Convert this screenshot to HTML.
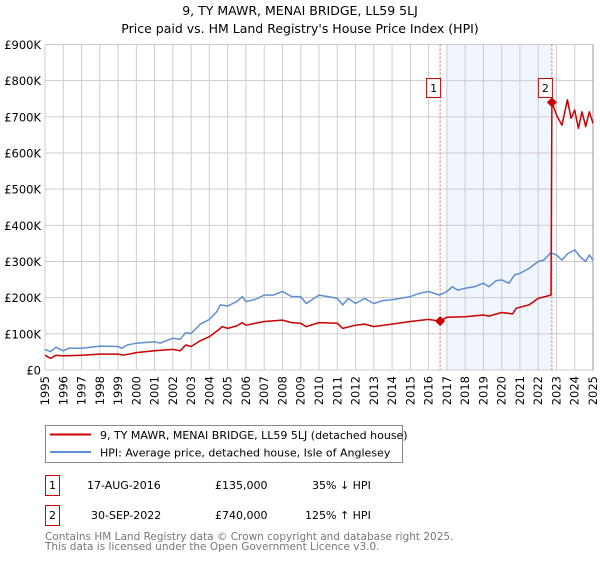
<!DOCTYPE html>
<html><head><meta charset="utf-8"><style>
body{margin:0;background:#fff;font-family:"DejaVu Sans","Liberation Sans",sans-serif;}
svg text{font-family:"DejaVu Sans","Liberation Sans",sans-serif;}
</style></head><body>
<svg id="chart" width="600" height="560" xmlns="http://www.w3.org/2000/svg">
<text x="300" y="15" text-anchor="middle" font-size="12.5" fill="#000">9, TY MAWR, MENAI BRIDGE, LL59 5LJ</text>
<text x="300" y="33" text-anchor="middle" font-size="12.5" fill="#000">Price paid vs. HM Land Registry's House Price Index (HPI)</text>
<g id="plot"></g>
<g>
<rect x="45.5" y="425.5" width="357" height="37" fill="#fff" stroke="#888"/>
<line x1="50" y1="434.5" x2="91" y2="434.5" stroke="#cc0000" stroke-width="2"/>
<text x="100" y="439" font-size="11">9, TY MAWR, MENAI BRIDGE, LL59 5LJ (detached house)</text>
<line x1="50" y1="452" x2="91" y2="452" stroke="#5f8fd0" stroke-width="2"/>
<text x="100" y="456.5" font-size="11">HPI: Average price, detached house, Isle of Anglesey</text>
</g>
<g font-size="11">
<rect x="45.5" y="475.5" width="14" height="20" fill="#fff" stroke="#cc0000"/>
<text x="52.5" y="489" text-anchor="middle">1</text>
<text x="87" y="489">17-AUG-2016</text>
<text x="215" y="489">£135,000</text>
<text x="312" y="489">35% ↓ HPI</text>
<rect x="45.5" y="505.5" width="14" height="20" fill="#fff" stroke="#cc0000"/>
<text x="52.5" y="519" text-anchor="middle">2</text>
<text x="91" y="519">30-SEP-2022</text>
<text x="215" y="519">£740,000</text>
<text x="305" y="519">125% ↑ HPI</text>
</g>
<g font-size="10.5" fill="#777">
<text x="45" y="540">Contains HM Land Registry data © Crown copyright and database right 2025.</text>
<text x="45" y="550">This data is licensed under the Open Government Licence v3.0.</text>
</g>
</svg>
<script>
const hpiYears=[1995,1995.3,1995.6,1996,1996.3,1997,1998,1999,1999.2,1999.5,2000,2001,2001.3,2002,2002.4,2002.7,2003,2003.5,2004,2004.4,2004.6,2005,2005.5,2005.8,2006,2006.5,2007,2007.5,2008,2008.5,2009,2009.3,2010,2010.5,2011,2011.3,2011.6,2012,2012.5,2013,2013.5,2014,2015,2015.5,2016,2016.6,2017,2017.3,2017.6,2018,2018.5,2019,2019.3,2019.7,2020,2020.4,2020.7,2021,2021.5,2022,2022.3,2022.7,2023,2023.3,2023.6,2024,2024.3,2024.6,2024.8,2025];
const hpiValues=[57,51,63,53,60,60,66,65,60,69,74,78,74,88,85,103,101,127,140,161,180,177,189,203,189,195,207,207,217,203,203,184,207,203,198,180,198,184,198,184,192,194,203,212,217,207,217,230,221,226,230,240,230,247,249,240,263,267,281,300,304,324,318,304,321,332,313,300,318,304];
const priceYears=[1995,1995.3,1995.6,1996,1997,1998,1999,1999.3,2000,2001,2002,2002.4,2002.7,2003,2003.5,2004,2004.5,2004.7,2005,2005.5,2005.8,2006,2007,2008,2008.5,2009,2009.3,2010,2011,2011.3,2012,2012.5,2013,2014,2015,2016,2016.63,2017,2018,2019,2019.3,2020,2020.6,2020.8,2021.5,2022,2022.7,2022.75,2023,2023.3,2023.6,2023.8,2024,2024.2,2024.4,2024.6,2024.8,2025];
const priceValues=[41,32,41,39,41,44,44,41,48,53,57,53,69,65,81,92,111,120,115,122,131,124,134,138,131,129,120,131,129,115,124,127,120,127,134,140,135,146,147,152,149,159,155,171,180,198,207,740,705,677,747,696,719,668,714,673,714,682];
const saleYears=[2016.63,2022.75];
const saleValues=[135,740];
const saleLabels=["1","2"];
const yTicks=[0,100,200,300,400,500,600,700,800,900];
const yTickLabels=["£0","£100K","£200K","£300K","£400K","£500K","£600K","£700K","£800K","£900K"];
const xTicks=[1995,1996,1997,1998,1999,2000,2001,2002,2003,2004,2005,2006,2007,2008,2009,2010,2011,2012,2013,2014,2015,2016,2017,2018,2019,2020,2021,2022,2023,2024,2025];

const L=45,R=593,T=44.5,B=370;
const xs=y=>L+(y-1995)/30*(R-L);
const ys=v=>B-v/900*(B-T);
const NS="http://www.w3.org/2000/svg";
const g=document.getElementById('plot');
function mk(tag,attrs,parent){const e=document.createElementNS(NS,tag);for(const k in attrs)e.setAttribute(k,attrs[k]);(parent||g).appendChild(e);return e;}

// shaded region between sales
const sh=mk('rect',{x:xs(2017),y:T,width:xs(saleYears[1])-xs(2017),height:B-T,fill:'#eef3fc',opacity:0.8});



yTicks.forEach((v,i)=>{
  const l=mk('line',{x1:L,x2:R,y1:ys(v),y2:ys(v),stroke:'#cccccc','stroke-width':1});
  
  
  const t=mk('text',{x:L-4,y:ys(v)+4.5,'text-anchor':'end','font-size':'11.5',fill:'#000'});
  t.textContent=yTickLabels[i];
  
  
});
xTicks.forEach(yr=>{
  const l=mk('line',{x1:xs(yr),x2:xs(yr),y1:T,y2:B,stroke:'#cccccc','stroke-width':1});
  
  
  const t=mk('text',{x:0,y:0,'text-anchor':'end','font-size':'11.5',fill:'#000',transform:`translate(${xs(yr)+4},${B+6}) rotate(-90)`});
  t.textContent=yr;
  
  
});
mk('line',{x1:R,x2:R,y1:T,y2:B,stroke:'#999','stroke-width':1});

saleYears.forEach((yr,i)=>{
  const d=mk('line',{x1:xs(yr),x2:xs(yr),y1:T,y2:B,stroke:'#e06060','stroke-width':1,'stroke-dasharray':'2,2'});
  
  
});

function path(xsArr,vArr,color,name){
  const d=xsArr.map((x,i)=>(i?'L':'M')+xs(x).toFixed(1)+','+ys(vArr[i]).toFixed(1)).join('');
  const p=mk('path',{d:d,fill:'none',stroke:color,'stroke-width':1.5,'stroke-linejoin':'round'});
  
  
}
path(hpiYears,hpiValues,'#5f8fd0','hpi-line');
path(priceYears,priceValues,'#cc0000','price-line');

saleYears.forEach((yr,i)=>{
  const cx=xs(yr),cy=ys(saleValues[i]);
  const m=mk('path',{d:`M${cx},${cy-5}L${cx+5},${cy}L${cx},${cy+5}L${cx-5},${cy}Z`,fill:'#cc0000'});
  
  
  const bx=cx-14;
  const r=mk('rect',{x:bx+0.5,y:78.5,width:14,height:19,fill:'#fff',stroke:'#cc0000'});
  
  
  const t=mk('text',{x:bx+7.5,y:92,'text-anchor':'middle','font-size':'11',fill:'#000'});
  t.textContent=saleLabels[i];
  
  
});
</script>
</body></html>
